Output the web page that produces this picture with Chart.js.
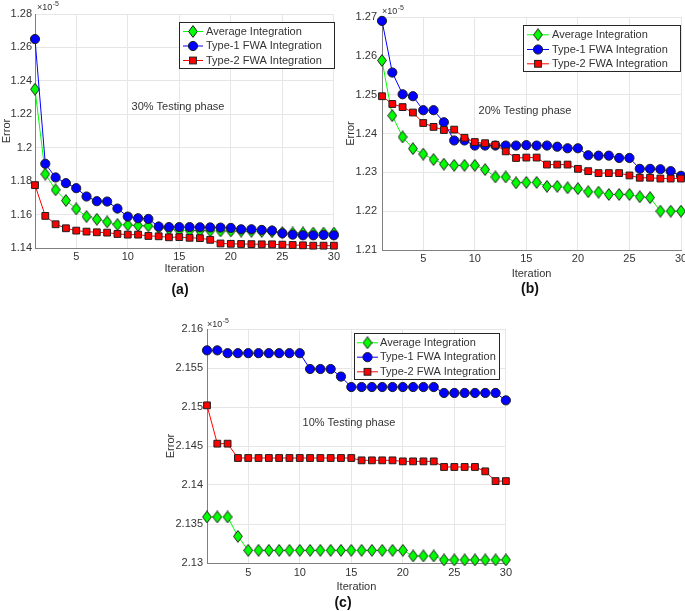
<!DOCTYPE html>
<html><head><meta charset="utf-8">
<script src="https://cdn.jsdelivr.net/npm/chart.js@4/dist/chart.umd.min.js"></script>
<style>
html,body{margin:0;padding:0;background:#fff;width:685px;height:611px;overflow:hidden;position:relative;font-family:"Liberation Sans",Arial,sans-serif}
canvas{position:absolute}
.lab{position:absolute;font-weight:bold;font-size:14px;color:#111;transform:translate(-50%,-50%);white-space:nowrap}
</style></head><body>
<canvas id="ca" width="342" height="282" style="left:0px;top:0px;width:342px;height:282px"></canvas>
<canvas id="cb" width="350" height="282" style="left:342px;top:0px;width:350px;height:282px"></canvas>
<canvas id="cc" width="355" height="290" style="left:160px;top:305px;width:355px;height:290px"></canvas>
<div class="lab" style="left:180px;top:289px">(a)</div>
<div class="lab" style="left:530px;top:288px">(b)</div>
<div class="lab" style="left:343px;top:602px">(c)</div>
<script>
// ---- data ----
const iterations = [1,2,3,4,5,6,7,8,9,10,11,12,13,14,15,16,17,18,19,20,21,22,23,24,25,26,27,28,29,30];
const seriesNames = ['Average Integration', 'Type-1 FWA Integration', 'Type-2 FWA Integration'];
const xTicks = [5,10,15,20,25,30];

// (a) 30% testing phase (values x 1e-5)
const avgA = [1.2350,1.1842,1.1748,1.1684,1.1634,1.1588,1.1572,1.1556,1.1540,1.1538,1.1534,1.1532,1.1522,1.1514,1.1506,1.1505,1.1504,1.1503,1.1502,1.1502,1.1501,1.1500,1.1499,1.1497,1.1492,1.1490,1.1490,1.1489,1.1489,1.1489];
const type1A = [1.2650,1.1904,1.1822,1.1788,1.1758,1.1708,1.1680,1.1678,1.1636,1.1588,1.1578,1.1574,1.1528,1.1525,1.1525,1.1525,1.1524,1.1523,1.1522,1.1520,1.1512,1.1512,1.1508,1.1504,1.1488,1.1480,1.1476,1.1476,1.1478,1.1476];
const type2A = [1.1776,1.1592,1.1542,1.1518,1.1504,1.1498,1.1494,1.1492,1.1484,1.1480,1.1480,1.1472,1.1470,1.1464,1.1465,1.1461,1.1459,1.1449,1.1427,1.1425,1.1424,1.1423,1.1422,1.1422,1.1420,1.1418,1.1416,1.1414,1.1414,1.1414];
const yTicksA = [1.14,1.16,1.18,1.2,1.22,1.24,1.26,1.28];
const yLabelsA = ['1.14','1.16','1.18','1.2','1.22','1.24','1.26','1.28'];

// (b) 20% testing phase
const avgB = [1.2588,1.2446,1.2391,1.2361,1.2347,1.2333,1.2321,1.2318,1.2318,1.2318,1.2307,1.2288,1.2288,1.2273,1.2274,1.2274,1.2264,1.2264,1.2260,1.2258,1.2250,1.2249,1.2243,1.2243,1.2243,1.2237,1.2235,1.2200,1.2200,1.2200];
const type1B = [1.2690,1.2557,1.2501,1.2496,1.2460,1.2460,1.2429,1.2382,1.2382,1.2369,1.2369,1.2369,1.2369,1.2369,1.2370,1.2369,1.2369,1.2366,1.2362,1.2362,1.2344,1.2343,1.2343,1.2337,1.2337,1.2309,1.2309,1.2308,1.2303,1.2291];
const type2B = [1.2496,1.2476,1.2468,1.2454,1.2427,1.2417,1.2409,1.2410,1.2389,1.2378,1.2375,1.2371,1.2354,1.2337,1.2338,1.2338,1.2320,1.2320,1.2320,1.2309,1.2303,1.2298,1.2298,1.2298,1.2292,1.2286,1.2286,1.2284,1.2284,1.2284];
const yTicksB = [1.21,1.22,1.23,1.24,1.25,1.26,1.27];
const yLabelsB = ['1.21','1.22','1.23','1.24','1.25','1.26','1.27'];

// (c) 10% testing phase
const avgC = [2.1359,2.1359,2.1359,2.13342,2.13162,2.13162,2.13162,2.13162,2.13162,2.13162,2.13162,2.13162,2.13162,2.13162,2.13162,2.13162,2.13162,2.13162,2.13162,2.13162,2.1309,2.1309,2.1309,2.1304,2.1304,2.1304,2.1304,2.1304,2.1304,2.1304];
const type1C = [2.15726,2.15726,2.1569,2.1569,2.1569,2.1569,2.1569,2.1569,2.1569,2.1569,2.15487,2.15487,2.15487,2.1539,2.15256,2.15256,2.15256,2.15256,2.15256,2.15256,2.15256,2.15256,2.15256,2.1518,2.1518,2.1518,2.1518,2.1518,2.1518,2.15085];
const type2C = [2.15021,2.1453,2.1453,2.14346,2.14346,2.14346,2.14346,2.14346,2.14346,2.14346,2.14346,2.14346,2.14346,2.14346,2.14346,2.14316,2.14316,2.14316,2.14316,2.14303,2.14303,2.14303,2.14303,2.14231,2.14231,2.14231,2.14231,2.14175,2.1405,2.1405];
const yTicksC = [2.13,2.135,2.14,2.145,2.15,2.155,2.16];
const yLabelsC = ['2.13','2.135','2.14','2.145','2.15','2.155','2.16'];

// ---- styling ----
const FONT = '"Liberation Sans", Arial, sans-serif';
const TXT = '#333333';
const GRID = '#e6e6e6';
const AXIS = '#808080';
const EDGE = '#1e1e1e';
const colors = ['#00ff00', '#0000ff', '#ff0000'];

function makeDiamond(w, h) {
  const c = document.createElement('canvas');
  c.width = w; c.height = h;
  const g = c.getContext('2d');
  g.beginPath();
  g.moveTo(w/2, 0.6); g.lineTo(w-0.6, h/2); g.lineTo(w/2, h-0.6); g.lineTo(0.6, h/2); g.closePath();
  g.fillStyle = colors[0]; g.fill();
  g.lineWidth = 1; g.strokeStyle = EDGE; g.stroke();
  return c;
}
const diamond = makeDiamond(10, 13);

function drawMarker(ctx, k, x, y) {
  ctx.save();
  ctx.lineWidth = 1; ctx.strokeStyle = EDGE;
  if (k === 0) {
    ctx.drawImage(diamond, x - diamond.width/2, y - diamond.height/2);
  } else if (k === 1) {
    ctx.beginPath(); ctx.arc(x, y, 4.6, 0, Math.PI*2);
    ctx.fillStyle = colors[1]; ctx.fill(); ctx.stroke();
  } else {
    ctx.fillStyle = colors[2];
    ctx.fillRect(x-3.4, y-3.4, 6.8, 6.8); ctx.strokeRect(x-3.4, y-3.4, 6.8, 6.8);
  }
  ctx.restore();
}

const extrasPlugin = {
  id: 'extras',
  afterDraw(chart, args, o) {
    const ctx = chart.ctx;
    ctx.save();
    // exponent label
    ctx.fillStyle = TXT; ctx.textAlign = 'left'; ctx.textBaseline = 'alphabetic';
    ctx.font = '9px ' + FONT;
    ctx.fillText('\u00d710', o.expX, o.expY);
    const w = ctx.measureText('\u00d710').width;
    ctx.font = '7px ' + FONT;
    ctx.fillText('-5', o.expX + w + 0.5, o.expY - 4);
    // note
    ctx.font = '11px ' + FONT; ctx.textAlign = 'center'; ctx.textBaseline = 'middle';
    ctx.fillStyle = TXT;
    ctx.fillText(o.note, o.noteX, o.noteY);
    // legend
    const L = o.legend;
    ctx.fillStyle = '#ffffff';
    ctx.fillRect(L.x, L.y, L.w, L.h);
    ctx.strokeStyle = '#262626'; ctx.lineWidth = 1;
    ctx.strokeRect(L.x + 0.5, L.y + 0.5, L.w - 1, L.h - 1);
    ctx.font = '11px ' + FONT; ctx.textAlign = 'left'; ctx.textBaseline = 'middle';
    for (let k = 0; k < 3; k++) {
      const ry = L.rows[k];
      ctx.strokeStyle = colors[k]; ctx.lineWidth = 1;
      ctx.beginPath(); ctx.moveTo(L.lx0, ry + 0.5); ctx.lineTo(L.lx1, ry + 0.5); ctx.stroke();
      drawMarker(ctx, k, L.mx, ry + 0.5);
      ctx.fillStyle = TXT;
      ctx.fillText(seriesNames[k], L.tx, ry + 0.5);
    }
    ctx.restore();
  }
};

function makeChart(id, avg, t1, t2, yTicks, yLabels, cfg) {
  const pts = arr => iterations.map((it, i) => ({x: it, y: arr[i]}));
  const base = {borderWidth: 1, pointBorderColor: EDGE, pointBorderWidth: 1, tension: 0, clip: false, fill: false};
  new Chart(document.getElementById(id), {
    type: 'line',
    data: {
      datasets: [
        Object.assign({}, base, {label: seriesNames[0], data: pts(avg), borderColor: colors[0], pointStyle: diamond, order: 2}),
        Object.assign({}, base, {label: seriesNames[1], data: pts(t1), borderColor: colors[1], backgroundColor: colors[1], pointBackgroundColor: colors[1], pointStyle: 'circle', pointRadius: 4.6, order: 1}),
        Object.assign({}, base, {label: seriesNames[2], data: pts(t2), borderColor: colors[2], backgroundColor: colors[2], pointBackgroundColor: colors[2], pointStyle: 'rect', pointRadius: 4.8, order: 0})
      ]
    },
    options: {
      responsive: false, animation: false, events: [],
      layout: {padding: cfg.padding},
      plugins: {legend: {display: false}, tooltip: {enabled: false}, extras: cfg.extras},
      scales: {
        x: {
          type: 'linear', min: 1, max: 30,
          afterBuildTicks: s => { s.ticks = xTicks.map(v => ({value: v})); },
          afterFit: s => { s.height = cfg.xH; },
          ticks: {autoSkip: false, maxRotation: 0, padding: cfg.xPad, color: TXT, font: {family: FONT, size: 11}, callback: v => String(v)},
          grid: {color: GRID, drawTicks: false},
          border: {color: AXIS},
          title: {display: true, text: 'Iteration', color: TXT, font: {family: FONT, size: 11}, padding: {top: 0, bottom: cfg.xTitlePad}}
        },
        y: {
          type: 'linear', min: yTicks[0], max: yTicks[yTicks.length - 1],
          afterBuildTicks: s => { s.ticks = yTicks.map(v => ({value: v})); },
          afterFit: s => { s.width = cfg.yW; },
          ticks: {autoSkip: false, padding: cfg.yPad, color: TXT, font: {family: FONT, size: 11},
                  callback: (v) => { const i = yTicks.findIndex(t => Math.abs(t - v) < 1e-9); return i >= 0 ? yLabels[i] : ''; }},
          grid: {color: GRID, drawTicks: false},
          border: {color: AXIS},
          title: {display: true, text: 'Error', color: TXT, font: {family: FONT, size: 11}, padding: {top: cfg.yTitlePad, bottom: 0}}
        }
      }
    },
    plugins: [extrasPlugin]
  });
}

makeChart('ca', avgA, type1A, type2A, yTicksA, yLabelsA, {
  padding: {left: 0, top: 14, right: 8, bottom: 0}, xH: 34, yW: 35, xPad: 2, yPad: 3, xTitlePad: 6, yTitlePad: 0,
  extras: {expX: 37, expY: 10, note: '30% Testing phase', noteX: 178, noteY: 107,
    legend: {x: 179, y: 22, w: 156, h: 47, rows: [31, 45.5, 60], lx0: 183, lx1: 203, mx: 193, tx: 206}}
});
makeChart('cb', avgB, type1B, type2B, yTicksB, yLabelsB, {
  padding: {left: 0, top: 17, right: 11, bottom: 0}, xH: 32, yW: 40, xPad: 2, yPad: 5, xTitlePad: 1, yTitlePad: 2,
  extras: {expX: 40, expY: 14, note: '20% Testing phase', noteX: 183, noteY: 111,
    legend: {x: 181, y: 25, w: 158, h: 47, rows: [34.3, 49, 63.3], lx0: 185, lx1: 207, mx: 196, tx: 210}}
});
makeChart('cc', avgC, type1C, type2C, yTicksC, yLabelsC, {
  padding: {left: 0, top: 24, right: 9, bottom: 0}, xH: 32, yW: 47, xPad: 3, yPad: 4, xTitlePad: 1, yTitlePad: 4,
  extras: {expX: 47, expY: 22, note: '10% Testing phase', noteX: 189, noteY: 118,
    legend: {x: 194, y: 28, w: 146, h: 47, rows: [37.3, 51.7, 66.3], lx0: 197, lx1: 218, mx: 207.5, tx: 220}}
});
</script>
</body></html>
